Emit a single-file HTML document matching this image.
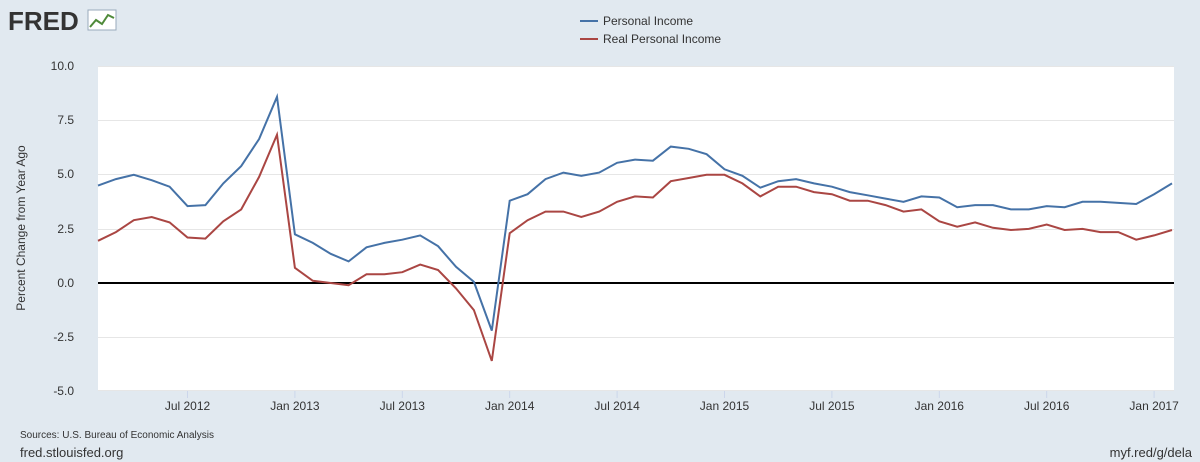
<!DOCTYPE html>
<html><head><meta charset="utf-8"><style>
body{margin:0;background:#e1e9f0;font-family:"Liberation Sans",sans-serif;}
</style></head><body>
<svg width="1200" height="462" xmlns="http://www.w3.org/2000/svg" style="display:block">
<rect width="1200" height="462" fill="#e1e9f0"/>
<text x="8" y="30" font-size="26" font-weight="bold" fill="#333" font-family="Liberation Sans,sans-serif">FRED</text>
<rect x="88" y="10" width="28" height="20" fill="#fff" stroke="#9ab" stroke-width="1"/>
<polyline points="90,27 96,20 102,24 108,15 114,18" fill="none" stroke="#4f8a3a" stroke-width="2"/>
<line x1="580" y1="21" x2="598" y2="21" stroke="#4572a7" stroke-width="2"/>
<text x="603" y="25" font-size="12" fill="#333">Personal Income</text>
<line x1="580" y1="39" x2="598" y2="39" stroke="#aa4643" stroke-width="2"/>
<text x="603" y="43" font-size="12" fill="#333">Real Personal Income</text>
<rect x="98" y="66" width="1076" height="325" fill="#fff"/>
<g stroke="#e6e6e6" stroke-width="1">
<line x1="98" x2="1174" y1="66.5" y2="66.5"/><line x1="98" x2="1174" y1="120.5" y2="120.5"/>
<line x1="98" x2="1174" y1="174.5" y2="174.5"/><line x1="98" x2="1174" y1="229.5" y2="229.5"/>
<line x1="98" x2="1174" y1="337.5" y2="337.5"/><line x1="98" x2="1174" y1="390.5" y2="390.5"/>
</g>
<line x1="98" x2="1174" y1="283" y2="283" stroke="#000" stroke-width="2"/>
<g font-size="12" fill="#333" text-anchor="end">
<text x="74" y="70">10.0</text><text x="74" y="124">7.5</text><text x="74" y="178">5.0</text>
<text x="74" y="233">2.5</text><text x="74" y="287">0.0</text><text x="74" y="341">-2.5</text><text x="74" y="395">-5.0</text>
</g>
<text transform="translate(25,228) rotate(-90)" font-size="12" fill="#333" text-anchor="middle">Percent Change from Year Ago</text>
<g font-size="12" fill="#333" text-anchor="middle" id="xl"></g>
<g stroke="#ccd6eb" id="xt"></g>
<polyline id="b" fill="none" stroke="#4572a7" stroke-width="2"/>
<polyline id="r" fill="none" stroke="#aa4643" stroke-width="2"/>
<text x="20" y="438" font-size="10" fill="#333">Sources: U.S. Bureau of Economic Analysis</text>
<text x="20" y="457" font-size="13" fill="#333">fred.stlouisfed.org</text>
<text x="1192" y="457" font-size="13" fill="#333" text-anchor="end">myf.red/g/dela</text>
</svg>
<script>
var B=[4.5,4.8,5.0,4.75,4.45,3.55,3.6,4.6,5.4,6.65,8.6,2.25,1.85,1.35,1.0,1.65,1.85,2.0,2.2,1.7,0.75,0.05,-2.2,3.8,4.1,4.8,5.1,4.95,5.1,5.55,5.7,5.65,6.3,6.2,5.95,5.25,4.95,4.4,4.7,4.8,4.6,4.45,4.2,4.05,3.9,3.75,4.0,3.95,3.5,3.6,3.6,3.4,3.4,3.55,3.5,3.75,3.75,3.7,3.65,4.1,4.6];
var R=[1.95,2.35,2.9,3.05,2.8,2.1,2.05,2.85,3.4,4.9,6.85,0.7,0.1,0.0,-0.1,0.4,0.4,0.5,0.85,0.6,-0.25,-1.25,-3.6,2.3,2.9,3.3,3.3,3.05,3.3,3.75,4.0,3.95,4.7,4.85,5.0,5.0,4.6,4.0,4.45,4.45,4.2,4.1,3.8,3.8,3.6,3.3,3.4,2.85,2.6,2.8,2.55,2.45,2.5,2.7,2.45,2.5,2.35,2.35,2.0,2.2,2.45];
function X(i){return 98+i*1074/60;}function Y(v){return 283-v*21.65;}
function P(a){return a.map(function(v,i){return X(i).toFixed(1)+","+Y(v).toFixed(1)}).join(" ");}
document.getElementById('b').setAttribute('points',P(B));
document.getElementById('r').setAttribute('points',P(R));
var L=["Jul 2012","Jan 2013","Jul 2013","Jan 2014","Jul 2014","Jan 2015","Jul 2015","Jan 2016","Jul 2016","Jan 2017"],s="",t="";
L.forEach(function(l,k){var x=X(5+6*k);s+='<text x="'+x+'" y="410">'+l+'</text>';t+='<line x1="'+x+'" x2="'+x+'" y1="391" y2="398"/>';});
document.getElementById('xl').innerHTML=s;document.getElementById('xt').innerHTML=t;
</script>
</body></html>
